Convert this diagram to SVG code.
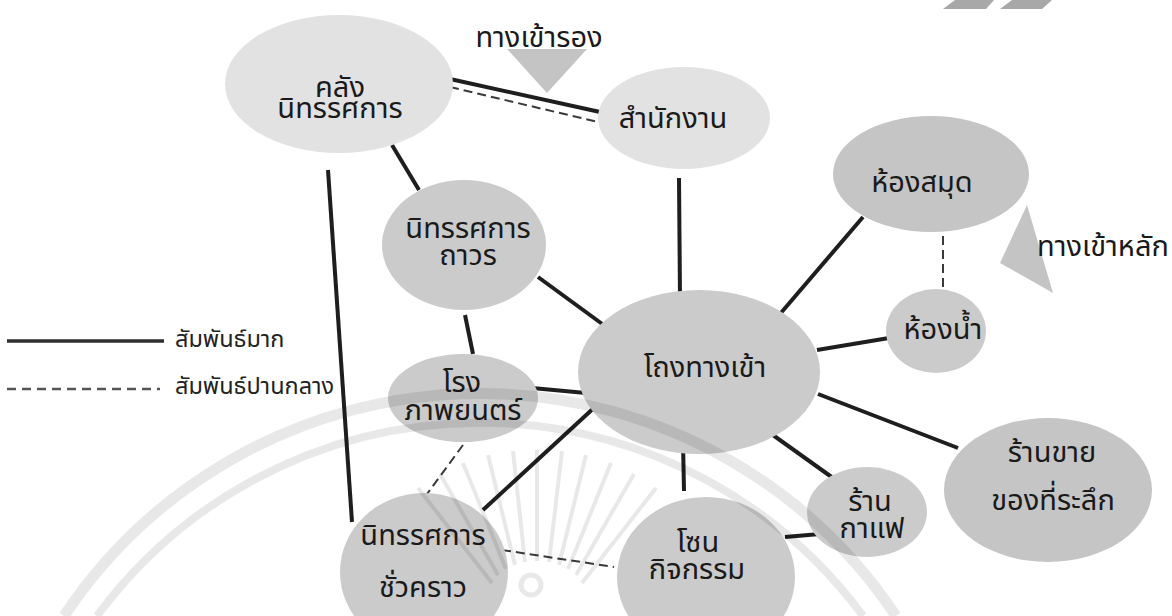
<svg xmlns="http://www.w3.org/2000/svg" width="1172" height="616" viewBox="0 0 1172 616">
  <style>
    .bg { fill: #ffffff; }
    .light { fill: #e2e2e2; }
    .mid { fill: #cbcbcb; }
    .dark { fill: #c5c5c5; }
    .lbl { font-family: "Noto Sans Thai", "Noto Sans Thai UI", "Sarabun", "Loma", "Garuda", "Noto Sans", sans-serif; font-size: 29px; fill: #1a1a1a; text-anchor: middle; }
    .cap { font-family: "Noto Sans Thai", "Noto Sans Thai UI", "Sarabun", "Loma", "Garuda", "Noto Sans", sans-serif; font-size: 29px; fill: #1a1a1a; }
    .leg { font-family: "Noto Sans Thai", "Noto Sans Thai UI", "Sarabun", "Loma", "Garuda", "Noto Sans", sans-serif; font-size: 23.5px; fill: #222; }
    .strong { stroke: #1e1e1e; stroke-width: 4; stroke-linecap: butt; fill: none; }
    .medium { stroke: #3a3a3a; stroke-width: 2; stroke-dasharray: 9 5; fill: none; }
    .wm { fill: none; stroke: #000; stroke-opacity: 0.09; }
    .pointer { fill: #c4c4c4; }
  </style>

  <rect class="bg" x="0" y="0" width="1172" height="616"/>

  <!-- corner stripes -->
  <g id="corner-mark" fill="#a8a8a8">
    <polygon points="943,9 986,9 994,0 955,0"/>
    <polygon points="1000,9 1042,9 1052,0 1012,0"/>
  </g>

  <!-- entrance pointers -->
  <g id="side-entrance">
    <polygon class="pointer" points="507,49 587,49 547,93"/>
    <text class="cap" x="539" y="47" text-anchor="middle">ทางเข้ารอง</text>
  </g>
  <g id="main-entrance">
    <polygon class="pointer" points="1027,205 1000,263 1053,293"/>
    <text class="cap" x="1037" y="256">ทางเข้าหลัก</text>
  </g>

  <!-- connectors -->
  <g id="connectors">
    <line class="strong" x1="450" y1="79" x2="600" y2="112"/>
    <line class="medium" x1="450" y1="87" x2="598" y2="122"/>
    <line class="strong" x1="392" y1="145" x2="419" y2="190"/>
    <line class="strong" x1="328" y1="170" x2="352" y2="522"/>
    <line class="strong" x1="679" y1="178" x2="680" y2="298"/>
    <line class="strong" x1="863" y1="217" x2="780" y2="314" stroke-width="5"/>
    <line class="medium" x1="943" y1="236" x2="943" y2="289"/>
    <line class="strong" x1="817" y1="350" x2="889" y2="338"/>
    <line class="strong" x1="538" y1="277" x2="605" y2="326"/>
    <line class="strong" x1="465" y1="315" x2="473" y2="354"/>
    <line class="strong" x1="532" y1="388" x2="586" y2="393"/>
    <line class="strong" x1="596" y1="406" x2="483" y2="510"/>
    <line class="medium" x1="463" y1="445" x2="427" y2="494"/>
    <line class="medium" x1="502" y1="550" x2="614" y2="567"/>
    <line class="strong" x1="683" y1="441" x2="684" y2="491" stroke-width="3"/>
    <line class="strong" x1="763" y1="428" x2="833" y2="478"/>
    <line class="strong" x1="785" y1="537" x2="820" y2="534"/>
    <line class="strong" x1="818" y1="394" x2="958" y2="448"/>
  </g>

  <!-- nodes -->
  <g id="node-storage">
    <ellipse class="light" cx="339" cy="84" rx="114" ry="69"/>
    <text class="lbl" x="340" y="97">คลัง</text>
    <text class="lbl" x="340" y="118">นิทรรศการ</text>
  </g>
  <g id="node-office">
    <ellipse class="light" cx="684" cy="118" rx="86" ry="51"/>
    <text class="lbl" x="673" y="128">สำนักงาน</text>
  </g>
  <g id="node-library">
    <ellipse class="dark" cx="931" cy="174" rx="98" ry="58"/>
    <text class="lbl" x="922" y="192">ห้องสมุด</text>
  </g>
  <g id="node-restroom">
    <ellipse class="mid" cx="936" cy="331" rx="50" ry="42"/>
    <text class="lbl" x="943" y="339">ห้องน้ำ</text>
  </g>
  <g id="node-permanent">
    <ellipse class="mid" cx="464" cy="245" rx="82" ry="65"/>
    <text class="lbl" x="468" y="238">นิทรรศการ</text>
    <text class="lbl" x="468" y="265">ถาวร</text>
  </g>
  <g id="node-lobby">
    <ellipse class="mid" cx="699" cy="372" rx="121" ry="82"/>
    <text class="lbl" x="705" y="377">โถงทางเข้า</text>
  </g>
  <g id="node-cinema">
    <ellipse class="mid" cx="463" cy="398" rx="75" ry="44"/>
    <text class="lbl" x="462" y="392">โรง</text>
    <text class="lbl" x="463" y="420">ภาพยนตร์</text>
  </g>
  <g id="node-temporary">
    <ellipse class="mid" cx="424" cy="572" rx="84" ry="79"/>
    <text class="lbl" x="423" y="545">นิทรรศการ</text>
    <text class="lbl" x="423" y="597">ชั่วคราว</text>
  </g>
  <g id="node-activity">
    <ellipse class="mid" cx="706" cy="577" rx="89" ry="80"/>
    <text class="lbl" x="698" y="552">โซน</text>
    <text class="lbl" x="697" y="579">กิจกรรม</text>
  </g>
  <g id="node-cafe">
    <ellipse class="mid" cx="867" cy="512" rx="60" ry="45"/>
    <text class="lbl" x="870" y="511">ร้าน</text>
    <text class="lbl" x="872" y="538">กาแฟ</text>
  </g>
  <g id="node-shop">
    <ellipse class="dark" cx="1048" cy="490" rx="104" ry="72"/>
    <text class="lbl" x="1052" y="462">ร้านขาย</text>
    <text class="lbl" x="1053" y="510">ของที่ระลึก</text>
  </g>

  <!-- legend -->
  <g id="legend">
    <line x1="7" y1="341" x2="164" y2="341" stroke="#2e2e2e" stroke-width="3.5"/>
    <text class="leg" x="175" y="347">สัมพันธ์มาก</text>
    <line x1="7" y1="389" x2="160" y2="389" stroke="#555" stroke-width="2.5" stroke-dasharray="9 6"/>
    <text class="leg" x="175" y="394">สัมพันธ์ปานกลาง</text>
  </g>

  <!-- faint seal printed over the page -->
  <g id="seal">
    <path class="wm" stroke-width="11" d="M 64 616 A 500 500 0 0 1 896 616"/>
    <path class="wm" stroke-width="8" d="M 97 616 A 476 476 0 0 1 863 616"/>
    <g class="wm" stroke-width="4">
      <line x1="492" y1="583" x2="418" y2="488"/>
      <line x1="498" y1="575" x2="440" y2="474"/>
      <line x1="506" y1="569" x2="463" y2="463"/>
      <line x1="515" y1="565" x2="488" y2="455"/>
      <line x1="525" y1="562" x2="513" y2="451"/>
      <line x1="537" y1="561" x2="537" y2="450"/>
      <line x1="549" y1="562" x2="562" y2="451"/>
      <line x1="559" y1="565" x2="586" y2="455"/>
      <line x1="568" y1="569" x2="611" y2="463"/>
      <line x1="576" y1="575" x2="634" y2="474"/>
      <line x1="582" y1="583" x2="656" y2="488"/>
    </g>
    <circle class="wm" stroke-width="5" cx="531" cy="585" r="10"/>
  </g>
</svg>
